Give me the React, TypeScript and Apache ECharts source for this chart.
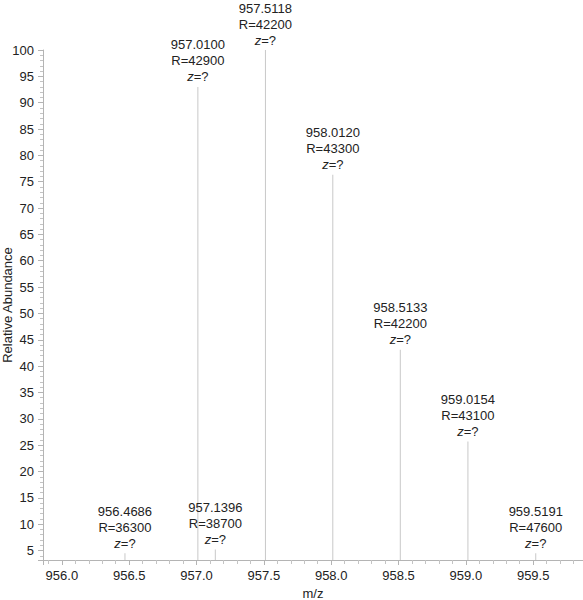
import React, { useEffect, useRef } from "react";
import * as echarts from "echarts";

const mzValues = [956.4686, 957.01, 957.1396, 957.5118, 958.012, 958.5133, 959.0154, 959.5191];
const mzLabels = ["956.4686", "957.0100", "957.1396", "957.5118", "958.0120", "958.5133", "959.0154", "959.5191"];
const abundance = [4.5, 93.0, 5.2, 100, 76.3, 43.1, 25.7, 4.5];
const resolution = [36300, 42900, 38700, 42200, 43300, 42200, 43100, 47600];
const chargeLabels = ["?", "?", "?", "?", "?", "?", "?", "?"];

const FONT = "'Liberation Sans', Arial, sans-serif";
const FS = 13;

export default function App() {
  const ref = useRef<HTMLDivElement>(null);
  useEffect(() => {
    if (!ref.current) return;
    const chart = echarts.init(ref.current, undefined, { renderer: "svg" });
    const data = mzValues.map((mz, i) => ({
      value: [mz, abundance[i]],
      label: {
        formatter: `{a|${mzLabels[i]}}\n{a|R=${resolution[i]}}\n{i|z}{a|=${chargeLabels[i]}}`,
      },
    }));
    chart.setOption({
      animation: false,
      backgroundColor: "#ffffff",
      textStyle: { fontFamily: FONT },
      grid: { left: 43, right: 0, top: 50, bottom: 40, containLabel: false, outerBoundsMode: "none" },
      xAxis: {
        type: "value",
        min: 955.86,
        max: 959.87,
        splitNumber: 8,
        name: "m/z",
        nameLocation: "middle",
        nameGap: 27,
        nameMoveOverlap: false,
        nameTextStyle: { fontFamily: FONT, fontSize: FS, color: "#222" },
        axisLine: { show: true, lineStyle: { color: "#b4b4b4", width: 1 } },
        axisTick: { show: true, length: 5, lineStyle: { color: "#b4b4b4" } },
        minorTick: { show: true, splitNumber: 5, length: 4, lineStyle: { color: "#c4c4c4" } },
        splitLine: { show: false },
        minorSplitLine: { show: false },
        axisLabel: {
          formatter: (v: number) => v.toFixed(1),
          showMinLabel: false,
          showMaxLabel: false,
          margin: 9,
          fontFamily: FONT,
          fontSize: FS,
          color: "#222",
        },
      },
      yAxis: {
        type: "value",
        min: 3.2,
        max: 100,
        splitNumber: 20,
        name: "Relative Abundance",
        nameLocation: "middle",
        nameGap: 29,
        nameMoveOverlap: false,
        nameTextStyle: { fontFamily: FONT, fontSize: FS, color: "#222" },
        axisLine: { show: true, lineStyle: { color: "#b4b4b4", width: 1 } },
        axisTick: { show: true, length: 5, lineStyle: { color: "#b4b4b4" } },
        minorTick: { show: true, splitNumber: 5, length: 3, lineStyle: { color: "#c4c4c4" } },
        splitLine: { show: false },
        minorSplitLine: { show: false },
        axisLabel: {
          showMinLabel: false,
          margin: 9,
          fontFamily: FONT,
          fontSize: FS,
          color: "#222",
        },
      },
      series: [
        {
          type: "bar",
          data,
          barWidth: 1,
          itemStyle: { color: "#c8c8c8" },
          label: {
            show: true,
            position: "top",
            distance: 2,
            align: "center",
            rich: {
              a: { fontFamily: FONT, fontSize: FS, color: "#222", lineHeight: 16 },
              i: { fontFamily: FONT, fontSize: FS, color: "#222", lineHeight: 16, fontStyle: "italic" },
            },
          },
        },
      ],
    });
    return () => chart.dispose();
  }, []);
  return (
    <div
      ref={ref}
      style={{ position: "fixed", left: 0, top: 0, width: 583, height: 600 }}
    />
  );
}
